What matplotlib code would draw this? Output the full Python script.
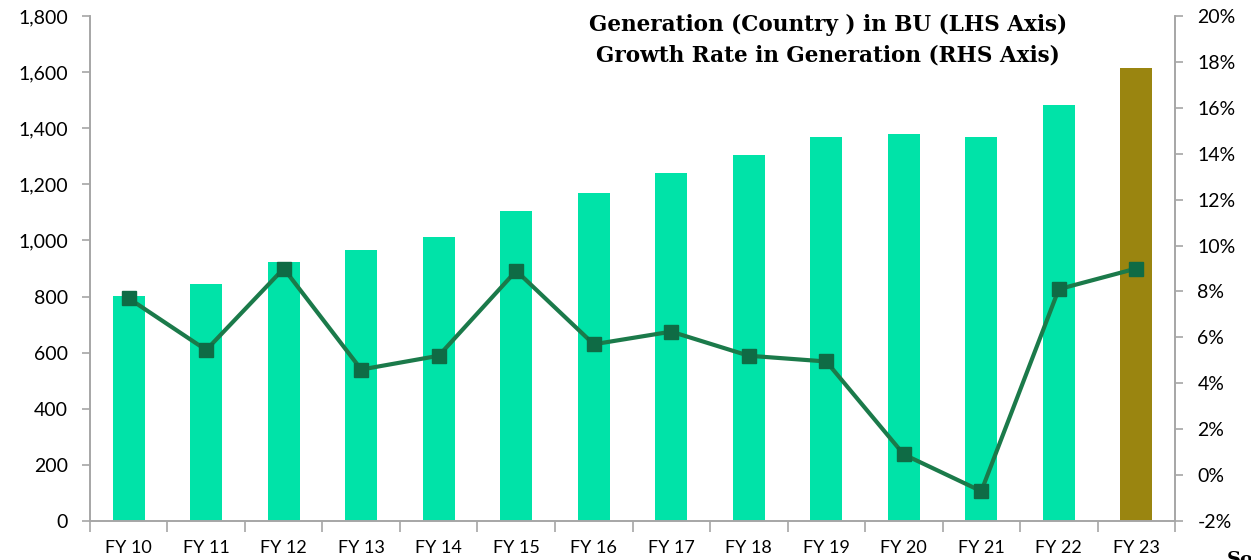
import numpy as np
import matplotlib.pyplot as plt
from matplotlib.ticker import FuncFormatter, FixedLocator

# data
years = ['FY 10', 'FY 11', 'FY 12', 'FY 13', 'FY 14', 'FY 15', 'FY 16',
         'FY 17', 'FY 18', 'FY 19', 'FY 20', 'FY 21', 'FY 22', 'FY 23']
generation_bu = [802, 845, 923, 966, 1012, 1105, 1169,
                 1240, 1304, 1368, 1379, 1368, 1483, 1614]
growth_pct = [7.7, 5.45, 9.0, 4.6, 5.2, 8.9, 5.7,
              6.25, 5.2, 4.95, 0.9, -0.7, 8.1, 9.0]

bar_color = '#00E3A8'
last_bar_color = '#9A8510'
line_color = '#1B7A4A'
marker_color = '#0F6B45'
axis_grey = '#A6A6A6'

plt.rcParams['font.family'] = ['Lato', 'DejaVu Sans']

fig = plt.figure(figsize=(12.51, 5.6), dpi=100)
ax = fig.add_axes([0.0719, 0.0696, 0.8674, 0.9018])
ax2 = ax.twinx()

x = np.arange(len(years))
colors = [bar_color] * (len(years) - 1) + [last_bar_color]
ax.bar(x, generation_bu, width=0.41, color=colors, zorder=1)

ax2.plot(x, growth_pct, color=line_color, linewidth=3, marker='s',
         markersize=10, markerfacecolor=marker_color, markeredgecolor=marker_color,
         zorder=3)

ax.set_xlim(-0.5, len(years) - 0.5)
ax.set_ylim(0, 1800)
ax2.set_ylim(-2, 20)
ax.set_yticks(range(0, 1801, 200))
ax.yaxis.set_major_formatter(FuncFormatter(lambda v, p: f'{int(v):,}'))
ax2.set_yticks(range(-2, 21, 2))
ax2.yaxis.set_major_formatter(FuncFormatter(lambda v, p: f'{int(v)}%'))

# category labels centred, tick marks at category boundaries
ax.xaxis.set_major_locator(FixedLocator(np.arange(-0.5, len(years), 1.0)))
ax.xaxis.set_minor_locator(FixedLocator(x))
ax.set_xticklabels([''] * len(ax.get_xticks()))
ax.set_xticklabels(years, minor=True)
ax.tick_params(axis='x', which='major', length=8, width=1.2, color=axis_grey, direction='out')
ax.tick_params(axis='x', which='minor', length=0, labelsize=13, pad=14, labelcolor='#000000')

ax.tick_params(axis='y', length=6, width=1.2, color=axis_grey, labelsize=14, pad=10)
ax2.tick_params(axis='y', length=6, width=1.2, color=axis_grey, labelsize=14, pad=10)

for a in (ax, ax2):
    a.spines['top'].set_visible(False)
    for s in ('left', 'right', 'bottom'):
        a.spines[s].set_color(axis_grey)
        a.spines[s].set_linewidth(1.2)

fig.text(0.662, 0.976, 'Generation (Country ) in BU (LHS Axis)\nGrowth Rate in Generation (RHS Axis)',
         ha='center', va='top', fontsize=15.5, fontweight='bold',
         family=['DejaVu Serif'], linespacing=1.55)

fig.text(0.981, 0.0, 'Source', ha='left', va='center', fontsize=14,
         fontweight='bold', family=['DejaVu Serif'])

fig.savefig('out.png', dpi=100)
